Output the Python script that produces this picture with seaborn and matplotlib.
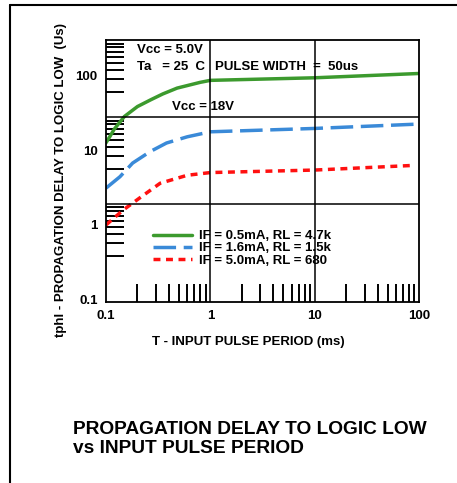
import numpy as np
import pandas as pd
import seaborn as sns
import matplotlib.pyplot as plt
from matplotlib.lines import Line2D

# data
labels = ["IF = 0.5mA, RL = 4.7k", "IF = 1.6mA, RL = 1.5k", "IF = 5.0mA, RL = 680"]

period_a = [0.1, 0.11, 0.12, 0.15, 0.2, 0.27, 0.35, 0.48, 0.8, 1.0, 10, 100]
delay_a = [12.5, 15.5, 19, 28, 38, 47, 56, 67, 80, 85, 92, 105]

period_b = [0.1, 0.136, 0.18, 0.264, 0.38, 0.6, 1.0, 10, 100]
delay_b = [3.1, 4.4, 6.7, 9.5, 12.4, 15, 17.5, 19.4, 22.2]

period_c = [0.1, 0.146, 0.21, 0.33, 0.6, 1.0, 10, 82]
delay_c = [1.0, 1.58, 2.29, 3.6, 4.6, 5.0, 5.4, 6.2]

df = pd.concat([
    pd.DataFrame({"T": period_a, "tphl": delay_a, "curve": labels[0]}),
    pd.DataFrame({"T": period_b, "tphl": delay_b, "curve": labels[1]}),
    pd.DataFrame({"T": period_c, "tphl": delay_c, "curve": labels[2]}),
])

sns.set_theme(style="white")
plt.rcParams["font.family"] = ["Liberation Sans", "DejaVu Sans"]
plt.rcParams["font.weight"] = "bold"
for key in ("text.color", "axes.labelcolor", "xtick.color", "ytick.color"):
    plt.rcParams[key] = "black"

fig = plt.figure(figsize=(4.57, 4.83), dpi=100)
ax = fig.add_axes([0.232, 0.375, 0.685, 0.542])

colors = {labels[0]: "#3c9a2e", labels[1]: "#3a8ad8", labels[2]: "#ff1010"}
dashes = {labels[0]: "", labels[1]: (6.5, 2.2), labels[2]: (2.0, 1.6)}
sns.lineplot(data=df, x="T", y="tphl", hue="curve", style="curve",
             palette=colors, dashes=dashes, linewidth=2.5, ax=ax, sort=False)

ax.set_xscale("log")
ax.set_yscale("log")
ax.set_xlim(0.1, 100)
ax.set_ylim(0.094, 293)

# grid lines as drawn in the original
ax.axvline(1, color="black", lw=1.1)
ax.axvline(10, color="black", lw=1.1)
grid_levels = [27.5, 1.9]
for g in grid_levels:
    ax.axhline(g, color="black", lw=1.1)

ax.set_xticks([0.1, 1, 10, 100], labels=["0.1", "1", "10", "100"])
ax.set_yticks([0.1, 1, 10, 100], labels=["0.1", "1", "10", "100"])
ax.set_xticks([m * d for d in (0.1, 1, 10) for m in range(2, 10)], minor=True)
ax.set_yticks([g * k / 10 for g in (293, 27.5, 1.9) for k in range(2, 10)], minor=True)
ax.set_xticklabels([], minor=True)
ax.set_yticklabels([], minor=True)
ax.tick_params(which="major", length=0, labelsize=9.5, pad=6)
ax.tick_params(which="minor", direction="in", length=13, width=1.4, color="black",
               bottom=True, left=True)
for s in ax.spines.values():
    s.set_color("black")
    s.set_linewidth(1.3)

ax.set_xlabel("T - INPUT PULSE PERIOD (ms)", fontsize=9.5, fontweight="bold")
ax.xaxis.set_label_coords(0.454, -0.13)
ax.set_ylabel("tphl - PROPAGATION DELAY TO LOGIC LOW  (Us)", fontsize=9.5,
              fontweight="bold")
ax.yaxis.set_label_coords(-0.125, 0.465)

ax.text(0.099, 0.962, "Vcc = 5.0V", transform=ax.transAxes, fontsize=9.5,
        fontweight="bold", va="center")
ax.text(0.099, 0.897, "Ta   = 25  C", transform=ax.transAxes, fontsize=9.5,
        fontweight="bold", va="center")
ax.text(0.348, 0.897, "PULSE WIDTH  =  50us", transform=ax.transAxes, fontsize=9.5,
        fontweight="bold", va="center")
ax.text(0.211, 0.744, "Vcc = 18V", transform=ax.transAxes, fontsize=9.5,
        fontweight="bold", va="center")

leg = ax.get_legend()
handles = leg.legend_handles
ax.legend(handles, labels, loc="upper left", bbox_to_anchor=(0.13, 0.30),
          frameon=False, fontsize=9.5, handlelength=2.9, handletextpad=0.6,
          labelspacing=0.0, borderpad=0)

fig.text(0.16, 0.091, "PROPAGATION DELAY TO LOGIC LOW\nvs INPUT PULSE PERIOD",
         fontsize=13.8, fontweight="bold", va="center", ha="left", linespacing=1.15)

# outer frame of the datasheet figure
fig.add_artist(Line2D([0.022, 1.0], [0.99, 0.99], color="black", lw=1.5))
fig.add_artist(Line2D([0.022, 0.022], [0.0, 0.99], color="black", lw=1.5))

fig.savefig("out.png", dpi=100)
